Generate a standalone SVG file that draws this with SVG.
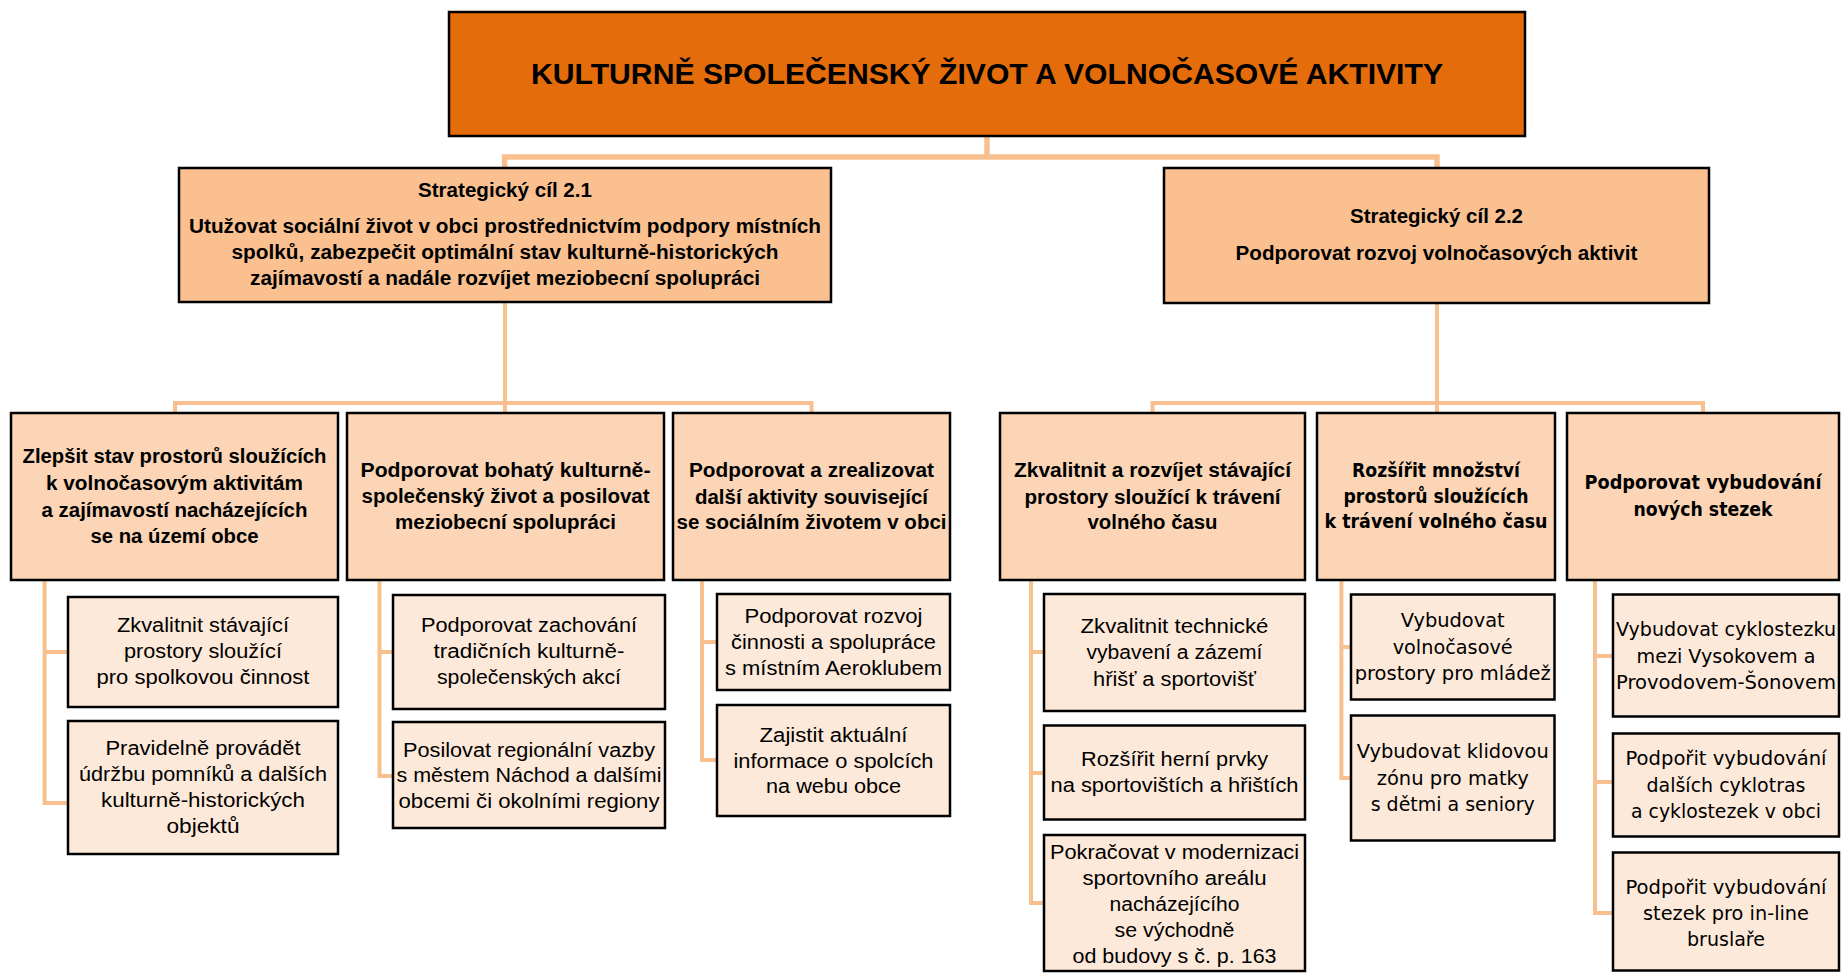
<svg xmlns="http://www.w3.org/2000/svg" width="1841" height="973" viewBox="0 0 1841 973">
<style>
.bx{stroke:#000;stroke-width:2.5}
.l1{fill:#E46C0A}
.l2{fill:#FAC090}
.l3{fill:#FBD5B5}
.l4{fill:#FDE9D9}
.cn{fill:none;stroke:#F9C08F;stroke-width:4;stroke-linejoin:miter}
.cn1{fill:none;stroke:#F9C08F;stroke-width:5.5}
text{font-family:"Liberation Sans",Arial,sans-serif;text-anchor:middle;fill:#000}
.t0{font-size:30px;font-weight:bold}
.tb{font-size:19.5px;font-weight:bold}
.tr{font-size:19.5px}
.db{font-family:"DejaVu Sans",Verdana,sans-serif;font-size:20px;font-weight:bold}
.dr{font-family:"DejaVu Sans",Verdana,sans-serif;font-size:19.5px}
</style>
<g id="connectors">
<path class="cn1" d="M987,137 V157 M504.6,169 V157 H1437 V169"/>
<path class="cn" d="M505,302 V413 M175,413 V403 H811.5 V413"/>
<path class="cn" d="M1437,303 V413 M1152.5,413 V403 H1703 V413"/>
<path class="cn" d="M44.6,580 V803 H68 M44.6,652 H68"/>
<path class="cn" d="M379.5,580 V776 H393 M379.5,652 H393"/>
<path class="cn" d="M702,580 V760 H717 M702,642 H717"/>
<path class="cn" d="M1031,580 V903 H1044 M1031,652 H1044 M1031,773 H1044"/>
<path class="cn" d="M1341.4,580 V778 H1351 M1341.4,647 H1351"/>
<path class="cn" d="M1595,580 V913 H1613 M1595,656 H1613 M1595,782 H1613"/>
</g>
<g id="root">
<rect class="bx l1" x="449" y="12" width="1076" height="124"/>
<text class="t0" x="987" y="84" textLength="912" lengthAdjust="spacingAndGlyphs">KULTURNĚ SPOLEČENSKÝ ŽIVOT A VOLNOČASOVÉ AKTIVITY</text>
</g>
<g id="sc21">
<rect class="bx l2" x="179" y="168" width="652" height="134"/>
<text class="tb" x="505" y="197" textLength="174" lengthAdjust="spacingAndGlyphs">Strategický cíl 2.1</text>
<text class="tb" x="505" y="233" textLength="632" lengthAdjust="spacingAndGlyphs">Utužovat sociální život v obci prostřednictvím podpory místních</text>
<text class="tb" x="505" y="259" textLength="547" lengthAdjust="spacingAndGlyphs">spolků, zabezpečit optimální stav kulturně-historických</text>
<text class="tb" x="505" y="285" textLength="510" lengthAdjust="spacingAndGlyphs">zajímavostí a nadále rozvíjet meziobecní spolupráci</text>
</g>
<g id="sc22">
<rect class="bx l2" x="1164" y="168" width="545" height="135"/>
<text class="tb" x="1436.5" y="223" textLength="173" lengthAdjust="spacingAndGlyphs">Strategický cíl 2.2</text>
<text class="tb" x="1436.5" y="260" textLength="402" lengthAdjust="spacingAndGlyphs">Podporovat rozvoj volnočasových aktivit</text>
</g>
<g id="A">
<rect class="bx l3" x="11" y="413" width="327" height="167"/>
<text class="tb" x="174.5" y="463" textLength="304" lengthAdjust="spacingAndGlyphs">Zlepšit stav prostorů sloužících</text>
<text class="tb" x="174.5" y="490" textLength="257" lengthAdjust="spacingAndGlyphs">k volnočasovým aktivitám</text>
<text class="tb" x="174.5" y="517" textLength="266" lengthAdjust="spacingAndGlyphs">a zajímavostí nacházejících</text>
<text class="tb" x="174.5" y="543" textLength="168" lengthAdjust="spacingAndGlyphs">se na území obce</text>
</g>
<g id="B">
<rect class="bx l3" x="347" y="413" width="317" height="167"/>
<text class="tb" x="505.5" y="477" textLength="290" lengthAdjust="spacingAndGlyphs">Podporovat bohatý kulturně-</text>
<text class="tb" x="505.5" y="503" textLength="288" lengthAdjust="spacingAndGlyphs">společenský život a posilovat</text>
<text class="tb" x="505.5" y="529" textLength="221" lengthAdjust="spacingAndGlyphs">meziobecní spolupráci</text>
</g>
<g id="C">
<rect class="bx l3" x="673" y="413" width="277" height="167"/>
<text class="tb" x="811.5" y="477" textLength="245" lengthAdjust="spacingAndGlyphs">Podporovat a zrealizovat</text>
<text class="tb" x="811.5" y="503.5" textLength="233" lengthAdjust="spacingAndGlyphs">další aktivity související</text>
<text class="tb" x="811.5" y="529" textLength="270" lengthAdjust="spacingAndGlyphs">se sociálním životem v obci</text>
</g>
<g id="D">
<rect class="bx l3" x="1000" y="413" width="305" height="167"/>
<text class="tb" x="1152.5" y="477" textLength="277" lengthAdjust="spacingAndGlyphs">Zkvalitnit a rozvíjet stávající</text>
<text class="tb" x="1152.5" y="503.5" textLength="256" lengthAdjust="spacingAndGlyphs">prostory sloužící k trávení</text>
<text class="tb" x="1152.5" y="529" textLength="130" lengthAdjust="spacingAndGlyphs">volného času</text>
</g>
<g id="E">
<rect class="bx l3" x="1317" y="413" width="238" height="167"/>
<text class="db" x="1436" y="477" textLength="168" lengthAdjust="spacingAndGlyphs">Rozšířit množství</text>
<text class="db" x="1436" y="502.5" textLength="185" lengthAdjust="spacingAndGlyphs">prostorů sloužících</text>
<text class="db" x="1436" y="528" textLength="223" lengthAdjust="spacingAndGlyphs">k trávení volného času</text>
</g>
<g id="F">
<rect class="bx l3" x="1567" y="413" width="272" height="167"/>
<text class="db" x="1703" y="489" textLength="237" lengthAdjust="spacingAndGlyphs">Podporovat vybudování</text>
<text class="db" x="1703" y="515.5" textLength="139" lengthAdjust="spacingAndGlyphs">nových stezek</text>
</g>
<g id="A1">
<rect class="bx l4" x="68" y="597" width="270" height="110"/>
<text class="tr" x="203" y="632" textLength="172" lengthAdjust="spacingAndGlyphs">Zkvalitnit stávající</text>
<text class="tr" x="203" y="658" textLength="158" lengthAdjust="spacingAndGlyphs">prostory sloužící</text>
<text class="tr" x="203" y="684" textLength="213" lengthAdjust="spacingAndGlyphs">pro spolkovou činnost</text>
</g>
<g id="A2">
<rect class="bx l4" x="68" y="721" width="270" height="133"/>
<text class="tr" x="203" y="755" textLength="195" lengthAdjust="spacingAndGlyphs">Pravidelně provádět</text>
<text class="tr" x="203" y="781" textLength="248" lengthAdjust="spacingAndGlyphs">údržbu pomníků a dalších</text>
<text class="tr" x="203" y="807" textLength="204" lengthAdjust="spacingAndGlyphs">kulturně-historických</text>
<text class="tr" x="203" y="833" textLength="73" lengthAdjust="spacingAndGlyphs">objektů</text>
</g>
<g id="B1">
<rect class="bx l4" x="393" y="595" width="272" height="114"/>
<text class="tr" x="529" y="632" textLength="216" lengthAdjust="spacingAndGlyphs">Podporovat zachování</text>
<text class="tr" x="529" y="658" textLength="191" lengthAdjust="spacingAndGlyphs">tradičních kulturně-</text>
<text class="tr" x="529" y="684" textLength="184" lengthAdjust="spacingAndGlyphs">společenských akcí</text>
</g>
<g id="B2">
<rect class="bx l4" x="393" y="722" width="272" height="106"/>
<text class="tr" x="529" y="757" textLength="252" lengthAdjust="spacingAndGlyphs">Posilovat regionální vazby</text>
<text class="tr" x="529" y="782" textLength="265" lengthAdjust="spacingAndGlyphs">s městem Náchod a dalšími</text>
<text class="tr" x="529" y="808" textLength="261" lengthAdjust="spacingAndGlyphs">obcemi či okolními regiony</text>
</g>
<g id="C1">
<rect class="bx l4" x="717" y="594" width="233" height="96"/>
<text class="tr" x="833.5" y="622.5" textLength="178" lengthAdjust="spacingAndGlyphs">Podporovat rozvoj</text>
<text class="tr" x="833.5" y="649" textLength="205" lengthAdjust="spacingAndGlyphs">činnosti a spolupráce</text>
<text class="tr" x="833.5" y="675" textLength="217" lengthAdjust="spacingAndGlyphs">s místním Aeroklubem</text>
</g>
<g id="C2">
<rect class="bx l4" x="717" y="705" width="233" height="111"/>
<text class="tr" x="833.5" y="742" textLength="148" lengthAdjust="spacingAndGlyphs">Zajistit aktuální</text>
<text class="tr" x="833.5" y="767.5" textLength="200" lengthAdjust="spacingAndGlyphs">informace o spolcích</text>
<text class="tr" x="833.5" y="793" textLength="135" lengthAdjust="spacingAndGlyphs">na webu obce</text>
</g>
<g id="D1">
<rect class="bx l4" x="1044" y="594" width="261" height="117"/>
<text class="tr" x="1174.5" y="633" textLength="188" lengthAdjust="spacingAndGlyphs">Zkvalitnit technické</text>
<text class="tr" x="1174.5" y="659" textLength="176" lengthAdjust="spacingAndGlyphs">vybavení a zázemí</text>
<text class="tr" x="1174.5" y="685.5" textLength="163" lengthAdjust="spacingAndGlyphs">hřišť a sportovišť</text>
</g>
<g id="D2">
<rect class="bx l4" x="1044" y="725.5" width="261" height="94"/>
<text class="tr" x="1174.5" y="765.5" textLength="187" lengthAdjust="spacingAndGlyphs">Rozšířit herní prvky</text>
<text class="tr" x="1174.5" y="791.5" textLength="248" lengthAdjust="spacingAndGlyphs">na sportovištích a hřištích</text>
</g>
<g id="D3">
<rect class="bx l4" x="1044" y="835" width="261" height="136"/>
<text class="tr" x="1174.5" y="858.5" textLength="249" lengthAdjust="spacingAndGlyphs">Pokračovat v modernizaci</text>
<text class="tr" x="1174.5" y="884.5" textLength="184" lengthAdjust="spacingAndGlyphs">sportovního areálu</text>
<text class="tr" x="1174.5" y="910.5" textLength="130" lengthAdjust="spacingAndGlyphs">nacházejícího</text>
<text class="tr" x="1174.5" y="936.5" textLength="120" lengthAdjust="spacingAndGlyphs">se východně</text>
<text class="tr" x="1174.5" y="962.5" textLength="204" lengthAdjust="spacingAndGlyphs">od budovy s č. p. 163</text>
</g>
<g id="E1">
<rect class="bx l4" x="1351" y="594.5" width="203.5" height="105"/>
<text class="dr" x="1452.7" y="627" textLength="104" lengthAdjust="spacingAndGlyphs">Vybudovat</text>
<text class="dr" x="1452.7" y="653.5" textLength="120" lengthAdjust="spacingAndGlyphs">volnočasové</text>
<text class="dr" x="1452.7" y="680" textLength="196" lengthAdjust="spacingAndGlyphs">prostory pro mládež</text>
</g>
<g id="E2">
<rect class="bx l4" x="1351" y="715.5" width="203.5" height="125"/>
<text class="dr" x="1452.7" y="758" textLength="192" lengthAdjust="spacingAndGlyphs">Vybudovat klidovou</text>
<text class="dr" x="1452.7" y="784.5" textLength="152" lengthAdjust="spacingAndGlyphs">zónu pro matky</text>
<text class="dr" x="1452.7" y="811" textLength="164" lengthAdjust="spacingAndGlyphs">s dětmi a seniory</text>
</g>
<g id="F1">
<rect class="bx l4" x="1613" y="594.5" width="226" height="122"/>
<text class="dr" x="1726" y="636" textLength="220" lengthAdjust="spacingAndGlyphs">Vybudovat cyklostezku</text>
<text class="dr" x="1726" y="662.5" textLength="179" lengthAdjust="spacingAndGlyphs">mezi Vysokovem a</text>
<text class="dr" x="1726" y="689" textLength="220" lengthAdjust="spacingAndGlyphs">Provodovem-Šonovem</text>
</g>
<g id="F2">
<rect class="bx l4" x="1613" y="733.5" width="226" height="103"/>
<text class="dr" x="1726" y="764.5" textLength="201" lengthAdjust="spacingAndGlyphs">Podpořit vybudování</text>
<text class="dr" x="1726" y="791.5" textLength="159" lengthAdjust="spacingAndGlyphs">dalších cyklotras</text>
<text class="dr" x="1726" y="817.5" textLength="190" lengthAdjust="spacingAndGlyphs">a cyklostezek v obci</text>
</g>
<g id="F3">
<rect class="bx l4" x="1613" y="852.5" width="226" height="118"/>
<text class="dr" x="1726" y="893.5" textLength="201" lengthAdjust="spacingAndGlyphs">Podpořit vybudování</text>
<text class="dr" x="1726" y="920" textLength="166" lengthAdjust="spacingAndGlyphs">stezek pro in-line</text>
<text class="dr" x="1726" y="945.5" textLength="78" lengthAdjust="spacingAndGlyphs">bruslaře</text>
</g>
</svg>
